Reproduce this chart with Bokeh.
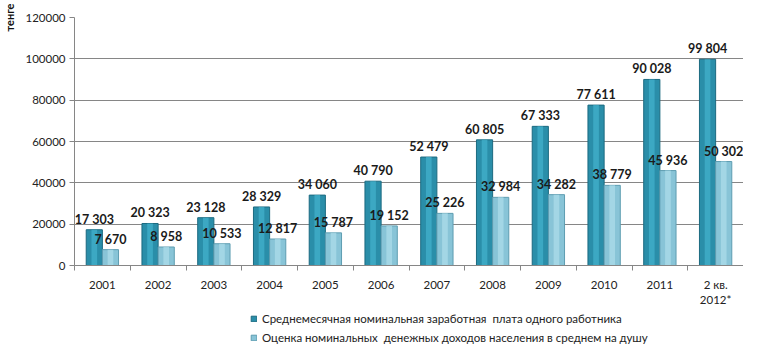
from bokeh.plotting import figure
from bokeh.layouts import column
from bokeh.models import (ColumnDataSource, FixedTicker, Legend, LegendItem,
                          Range1d, BasicTickFormatter)
from bokeh.core.properties import value
from bokeh.embed import file_html
from bokeh.resources import INLINE

categories = ["2001", "2002", "2003", "2004", "2005", "2006", "2007", "2008",
              "2009", "2010", "2011", "2 кв.\n2012*"]
wage = [17303, 20323, 23128, 28329, 34060, 40790, 52479, 60805, 67333, 77611, 90028, 99804]
income = [7670, 8958, 10533, 12817, 15787, 19152, 25226, 32984, 34282, 38779, 45936, 50302]
series_names = ["Среднемесячная номинальная заработная  плата одного работника",
                "Оценка номинальных  денежных доходов населения в среднем на душу"]
y_ticks = [0, 20000, 40000, 60000, 80000, 100000, 120000]
unit = "тенге"

FONT = "Lato"
DARK, DARK_LINE, DARK_HI = "#2a8ea9", "#1c6a80", "#45b3cf"
LIGHT, LIGHT_LINE, LIGHT_HI = "#88c4d7", "#5e9db1", "#afdeeb"

def fmt(v):
    return f"{v:,}".replace(",", " ")

n = len(categories)
centers = [i + 0.5 for i in range(n)]
bw = 0.29
src = ColumnDataSource(dict(
    xd=[c - 0.145 for c in centers],
    xl=[c + 0.145 for c in centers],
    wage=wage, income=income,
    wl=[fmt(v) for v in wage], il=[fmt(v) for v in income],
))

p = figure(width=743, height=309, output_backend="svg", toolbar_location=None,
           x_range=Range1d(0, n), y_range=Range1d(0, 120000),
           min_border_left=66, min_border_right=0, min_border_top=17, min_border_bottom=0)
p.outline_line_color = None
p.background_fill_color = "white"

p.vbar(x="xd", top="wage", width=bw, source=src, fill_color=DARK,
       line_color=DARK_LINE, line_width=1)
p.vbar(x="xd", top="wage", width=bw * 0.35, source=src, fill_color=DARK_HI,
       line_color=None, fill_alpha=0.7)
p.vbar(x="xl", top="income", width=bw, source=src, fill_color=LIGHT,
       line_color=LIGHT_LINE, line_width=1)
p.vbar(x="xl", top="income", width=bw * 0.35, source=src, fill_color=LIGHT_HI,
       line_color=None, fill_alpha=0.7)

p.text(x="xd", y="wage", text="wl", source=src, text_align="center",
       text_baseline="bottom", y_offset=-3, text_font=value(FONT),
       text_font_style="bold", text_font_size="12.5px", text_color="#1a1a1a")
p.text(x="xl", y="income", text="il", source=src, text_align="center",
       text_baseline="bottom", y_offset=-3, text_font=value(FONT),
       text_font_style="bold", text_font_size="12.5px", text_color="#1a1a1a")

# axes
p.yaxis.ticker = FixedTicker(ticks=y_ticks)
p.yaxis.formatter = BasicTickFormatter(use_scientific=False)
p.yaxis.major_label_text_font = FONT
p.yaxis.major_label_text_font_size = "11.5px"
p.yaxis.major_label_text_color = "#222222"
p.yaxis.axis_line_color = "#868686"
p.yaxis.major_tick_line_color = "#868686"
p.yaxis.major_tick_out = 5
p.yaxis.major_tick_in = 0
p.yaxis.minor_tick_line_color = None
p.yaxis.major_label_standoff = 4
p.yaxis.axis_label = unit
p.yaxis.axis_label_align = "end"
p.yaxis.axis_label_standoff = 6
p.yaxis.axis_label_text_font = FONT
p.yaxis.axis_label_text_font_style = "bold"
p.yaxis.axis_label_text_font_size = "11px"
p.yaxis.axis_label_text_color = "#111111"

p.xaxis.ticker = FixedTicker(ticks=centers, minor_ticks=list(range(n + 1)))
p.xaxis.major_label_overrides = {c: lab for c, lab in zip(centers, categories)}
p.xaxis.major_label_text_font = FONT
p.xaxis.major_label_text_font_size = "11.5px"
p.xaxis.major_label_text_color = "#222222"
p.xaxis.axis_line_color = "#868686"
p.xaxis.major_tick_line_color = None
p.xaxis.minor_tick_line_color = "#868686"
p.xaxis.minor_tick_out = 5
p.xaxis.minor_tick_in = 0
p.xaxis.major_label_standoff = 6

p.xgrid.grid_line_color = None
p.ygrid.ticker = FixedTicker(ticks=y_ticks)
p.ygrid.grid_line_color = "#868686"
p.ygrid.grid_line_width = 1

# legend in its own strip below the chart (legend swatches use off-range stand-in bars)
lf = figure(width=743, height=36, output_backend="svg", toolbar_location=None,
            x_range=Range1d(0, 1), y_range=Range1d(0, 1),
            x_axis_type=None, y_axis_type=None,
            min_border_left=0, min_border_right=0, min_border_top=0, min_border_bottom=0)
lf.outline_line_color = None
lf.xgrid.grid_line_color = None
lf.ygrid.grid_line_color = None
swatch = ColumnDataSource(dict(x=[-10], top=[-10]))
g1 = lf.vbar(x="x", top="top", width=0.1, source=swatch, fill_color=DARK, line_color=DARK_LINE)
g2 = lf.vbar(x="x", top="top", width=0.1, source=swatch, fill_color=LIGHT, line_color=LIGHT_LINE)

legend = Legend(items=[LegendItem(label=series_names[0], renderers=[g1]),
                       LegendItem(label=series_names[1], renderers=[g2])],
                location=(176, 0), orientation="vertical",
                border_line_alpha=0, background_fill_alpha=0,
                label_text_font=FONT, label_text_font_size="11.5px",
                label_text_color="#222222",
                glyph_width=7, glyph_height=7, label_height=15, spacing=4,
                padding=0, margin=0, label_standoff=5)
lf.add_layout(legend, "center")

layout = column(p, lf, spacing=0)
open("out.html", "w").write(file_html(layout, INLINE))
